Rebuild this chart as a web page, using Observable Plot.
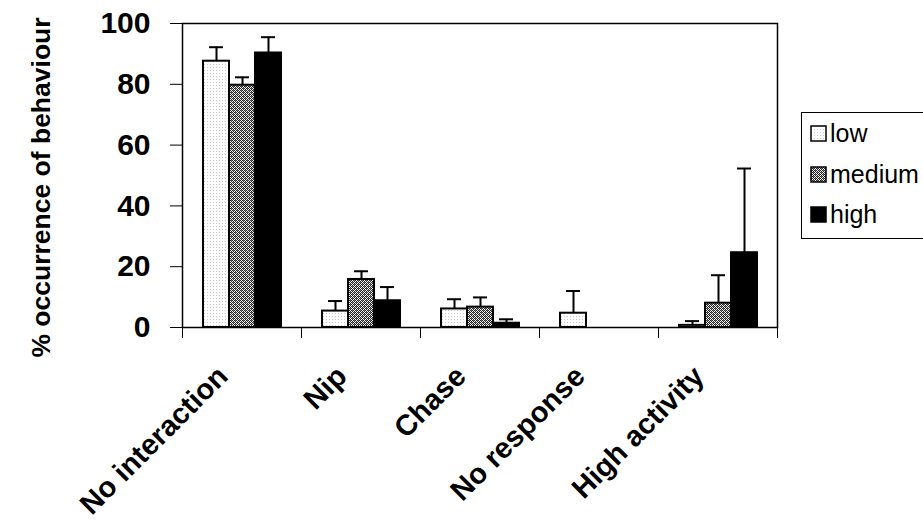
<!DOCTYPE html>
<html>
<head>
<meta charset="utf-8">
<script src="https://cdn.jsdelivr.net/npm/d3@7"></script>
<script src="https://cdn.jsdelivr.net/npm/@observablehq/plot@0.6"></script>
<style>
  html, body { margin: 0; padding: 0; background: #fff; }
  #wrap { position: relative; width: 923px; height: 521px; overflow: hidden; font-family: "Liberation Sans", Arial, sans-serif; }
  #legend { position: absolute; left: 801px; top: 112px; width: 140px; height: 127px; border: 1px solid #000; box-sizing: border-box; background: #fff; }
  .item { position: absolute; left: 8px; display: flex; align-items: center; font-size: 25px; line-height: 1; color: #000; }
  .item svg { margin-right: 3px; }
</style>
</head>
<body>
<svg width="0" height="0" style="position:absolute">
  <defs>
    <pattern id="p-low" width="3" height="3" patternUnits="userSpaceOnUse">
      <rect width="3" height="3" fill="#fff"/>
      <rect x="1" y="1" width="1" height="1" fill="#c8c8c8"/>
    </pattern>
    <pattern id="p-medium" width="4" height="4" patternUnits="userSpaceOnUse">
      <rect width="4" height="4" fill="#fff"/>
      <rect x="0" y="0" width="1" height="1" fill="#222"/>
      <rect x="1" y="1" width="1" height="1" fill="#222"/>
      <rect x="2" y="2" width="1" height="1" fill="#222"/>
      <rect x="3" y="3" width="1" height="1" fill="#222"/>
      <rect x="2" y="0" width="1" height="1" fill="#222"/>
      <rect x="3" y="1" width="1" height="1" fill="#222"/>
      <rect x="0" y="2" width="1" height="1" fill="#222"/>
      <rect x="1" y="3" width="1" height="1" fill="#222"/>
      <rect x="1" y="0" width="1" height="1" fill="#777"/>
      <rect x="3" y="2" width="1" height="1" fill="#777"/>
    </pattern>
  </defs>
</svg>
<div id="wrap">
  <div id="chart"></div>
  <div id="legend"></div>
</div>
<script>
const categories = ["No interaction", "Nip", "Chase", "No response", "High activity"];
const series = ["low", "medium", "high"];
const lowValues = [87.6, 5.4, 6.1, 4.7, 0.7];
const lowErrors = [4.6, 3.3, 3.2, 7.3, 1.4];
const mediumValues = [79.7, 15.8, 6.7, 0, 8.0];
const mediumErrors = [2.6, 2.7, 3.2, 0, 9.2];
const highValues = [90.3, 8.8, 1.4, 0, 24.6];
const highErrors = [5.2, 4.5, 1.3, 0, 27.7];
const yTicks = [0, 20, 40, 60, 80, 100];
const seriesFills = ["url(#p-low)", "url(#p-medium)", "#000"];

const valuesBySeries = {low: lowValues, medium: mediumValues, high: highValues};
const errorsBySeries = {low: lowErrors, medium: mediumErrors, high: highErrors};
const data = [];
for (const s of series) {
  categories.forEach((c, i) => {
    data.push({category: c, series: s, value: valuesBySeries[s][i], err: errorsBySeries[s][i]});
  });
}
const errData = data.filter(d => d.err > 0);

const font = "'Liberation Sans', Arial, sans-serif";

const chart = Plot.plot({
  width: 923,
  height: 521,
  marginLeft: 180,
  marginRight: 145,
  marginTop: 23,
  marginBottom: 194,
  style: {fontFamily: font, background: "transparent", color: "#000"},
  fx: {domain: categories, padding: 0, label: null},
  x: {domain: series, paddingInner: 0, paddingOuter: 0.722, axis: null},
  y: {domain: [0, 100], label: null},
  color: {domain: series, range: seriesFills},
  marks: [
    Plot.barY(data, {
      fx: "category", x: "series", y: "value", fill: "series",
      stroke: d => d.value === 0 ? "#aaa" : "#000",
      strokeWidth: d => d.value === 0 ? 1 : 2
    }),
    Plot.ruleX(errData, {fx: "category", x: "series", y1: "value", y2: d => d.value + d.err, stroke: "#000", strokeWidth: 2}),
    Plot.tickY(errData, {fx: "category", x: "series", y: d => d.value + d.err, stroke: "#000", strokeWidth: 2, insetLeft: 6, insetRight: 6}),
    Plot.frame({anchor: "left", insetTop: 304, insetBottom: -10, stroke: "#000", strokeWidth: 1}),
    Plot.frame({anchor: "right", insetTop: 304, insetBottom: -10, stroke: "#000", strokeWidth: 1}),
    Plot.frame({facet: "super", stroke: "#000", strokeWidth: 1.5}),
    Plot.axisY({ticks: yTicks, tickSize: 12, tickPadding: 20, fontSize: 30, fontWeight: "bold", label: null, tickFormat: d => String(d)}),
    Plot.axisFx({anchor: "bottom", tickRotate: -45, tickSize: 0, tickPadding: 44, dx: -19, fontSize: 29, fontWeight: "bold", label: null}),
    Plot.text(["% occurrence of behaviour"], {facet: "super", frameAnchor: "left", rotate: -90, dx: -141, dy: 12, fontSize: 26.5, fontWeight: "bold", textAnchor: "middle", fill: "#000"})
  ]
});
document.getElementById("chart").appendChild(chart);

const legend = document.getElementById("legend");
const tops = [8, 49, 89];
series.forEach((s, i) => {
  const item = document.createElement("div");
  item.className = "item";
  item.style.top = tops[i] + "px";
  item.innerHTML = `<svg width="17" height="17"><rect x="1" y="1" width="15" height="15" fill="${seriesFills[i]}" stroke="#000" stroke-width="1.5"/></svg><span>${s}</span>`;
  legend.appendChild(item);
});
</script>
</body>
</html>
